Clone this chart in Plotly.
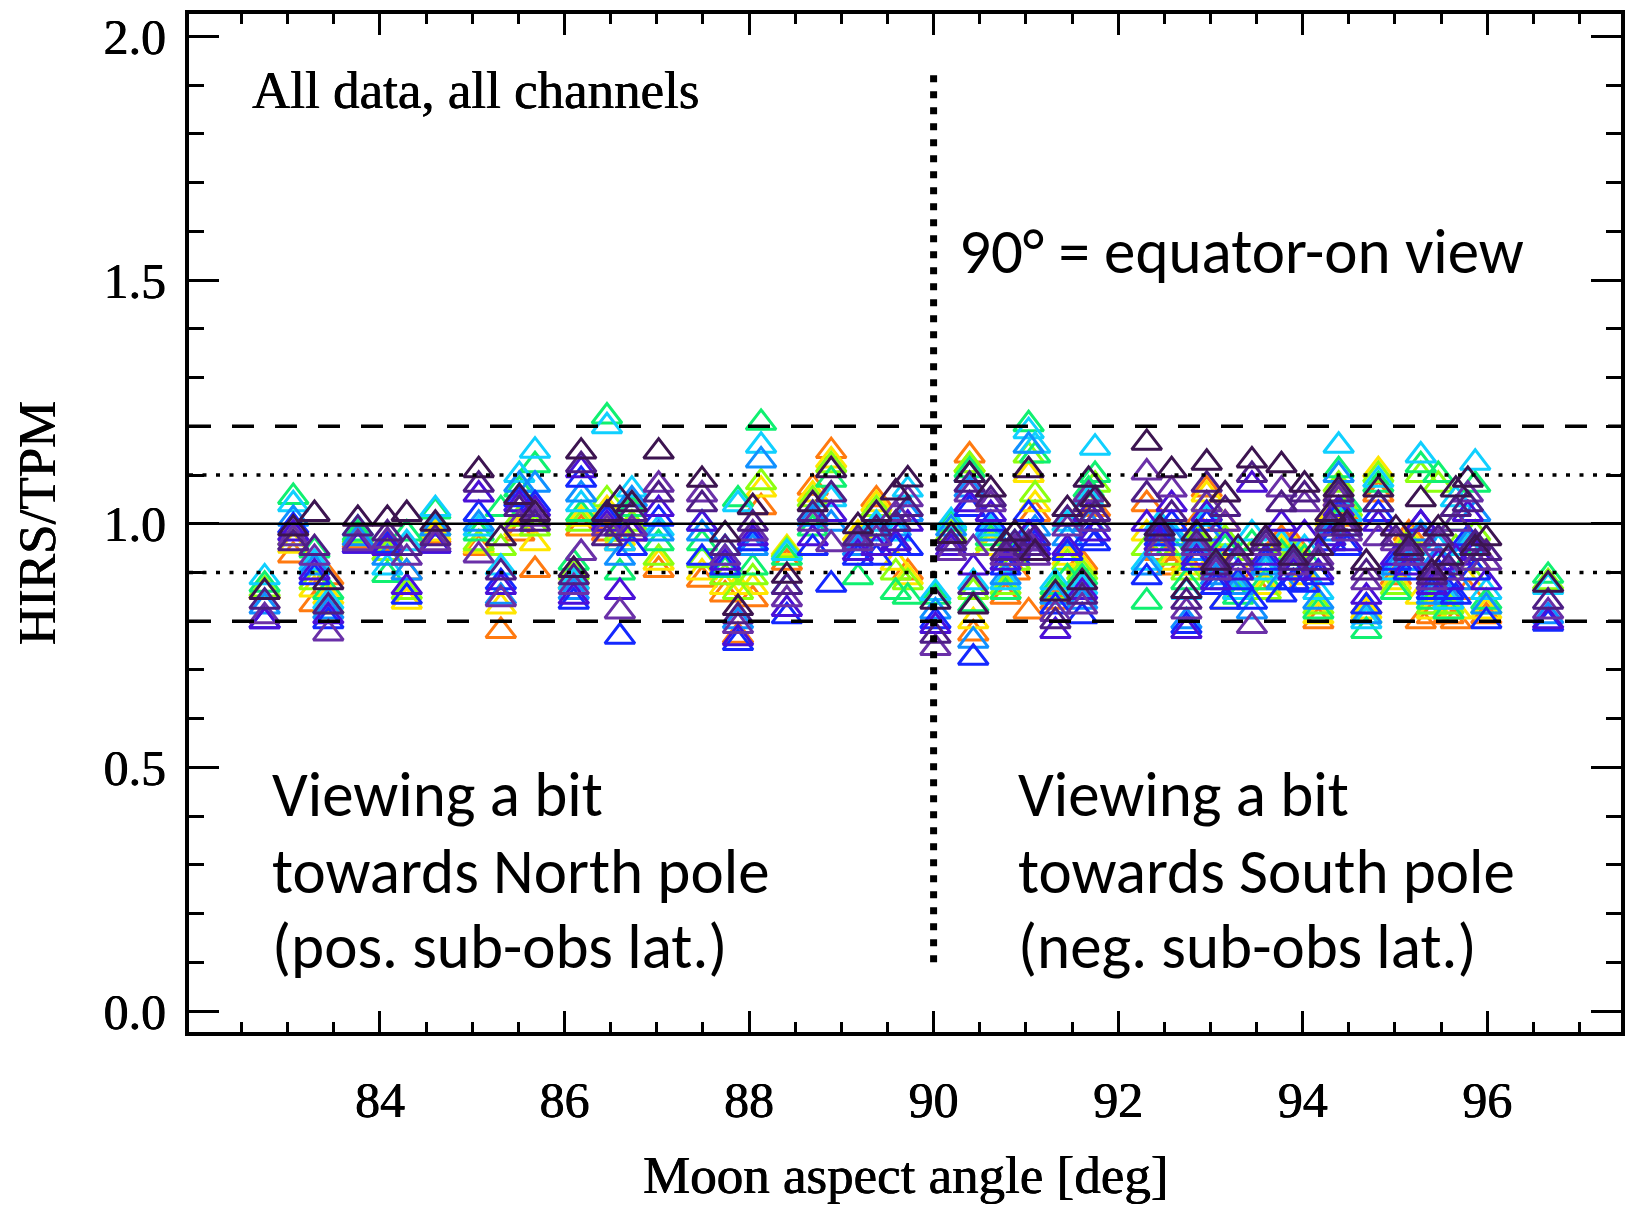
import plotly.graph_objects as go

# ---------------- data ----------------
angles = [82.75, 83.06, 83.29, 83.44, 83.76, 84.08, 84.29, 84.60, 85.07, 85.31,
          85.51, 85.68, 86.10, 86.18, 86.46, 86.60, 86.73, 87.02, 87.49, 87.74,
          87.88, 88.04, 88.13, 88.41, 88.69, 88.89, 89.18, 89.38, 89.59, 89.72,
          90.02, 90.19, 90.39, 90.43, 90.62, 90.78, 90.88, 91.03, 91.10, 91.32,
          91.45, 91.61, 91.68, 91.75, 92.31, 92.45, 92.58, 92.74, 92.85, 92.96,
          93.06, 93.16, 93.30, 93.45, 93.60, 93.77, 93.90, 94.02, 94.17, 94.30,
          94.39, 94.48, 94.69, 94.82, 95.01, 95.15, 95.28, 95.40, 95.47, 95.58,
          95.66, 95.79, 95.87, 95.99, 96.66]

ratio_dark_purple = [0.86, 0.99, 1.02, 0.88, 1.01, 1.01, 1.02, 1.00, 1.11, 0.97,
                     1.055, 1.02, 0.905, 1.148, 1.02, 1.05, 1.04, 1.148, 1.09, 0.978,
                     0.827, 1.034, None, 0.893, 1.04, 1.11, 0.995, 1.02, 1.064, 1.091,
                     0.84, 0.975, 1.10, 0.83, 1.07, 0.96, 0.98, 1.11, 0.94, 0.857,
                     1.03, 0.88, 1.09, 1.05, 1.166, 0.99, 1.11, 0.862, 0.98, 1.125,
                     0.92, 1.06, 0.95, 1.13, 0.97, 1.12, 0.93, 1.08, 0.95, 1.02,
                     1.07, 1.00, 0.92, 1.07, 0.99, 0.95, 1.05, 0.90, 0.99, 0.93,
                     1.07, 1.09, 0.95, 0.97, 0.875]
ratio_dark_violet = [0.84, 0.96, 0.95, 0.83, 0.99, 0.98, 0.95, 0.97, 1.08, 0.90,
                     1.03, 1.00, 0.89, 1.12, 0.97, 0.99, 1.02, 1.06, 1.04, 0.95,
                     0.81, 1.00, None, 0.87, 1.02, 1.06, 0.97, 0.99, 1.00, 1.03,
                     0.77, 0.96, 1.08, 0.87, 1.05, 0.94, 0.96, 0.95, 0.97, 0.80,
                     1.01, 0.85, 1.04, 1.02, 1.06, 0.98, 1.02, 0.84, 0.96, 1.08,
                     0.91, 1.03, 0.93, 1.10, 0.96, 1.04, 0.92, 1.06, 0.92, 1.00,
                     1.06, 0.99, 0.90, 1.04, 0.97, 0.94, 0.97, 0.89, 0.97, 0.91,
                     1.03, 1.04, 0.96, 0.94, 0.84]
ratio_purple = [0.81, 0.97, 0.93, 0.775, 0.96, 0.965, 0.93, 0.96, 0.935, 0.845,
                1.00, 1.01, 0.87, 0.94, 0.99, 0.82, 0.99, 1.08, 1.06, 0.93,
                0.79, 0.98, None, 0.845, 1.00, 0.958, 0.96, 0.97, 1.02, 1.05,
                0.745, 0.94, 1.06, 0.95, 1.04, 0.93, 0.95, 0.96, 0.93, 0.815,
                0.99, 0.83, 1.06, 1.00, 1.105, 0.95, 1.07, 0.82, 0.95, 1.04,
                0.90, 1.00, 0.92, 0.79, 0.95, 1.07, 0.91, 1.04, 0.93, 0.99,
                1.05, 0.98, 0.88, 0.97, 0.96, 0.93, 0.93, 0.88, 0.96, 0.90,
                1.00, 1.06, 0.92, 0.92, 0.82]
ratio_indigo = [0.80, 0.98, 0.90, 0.81, 0.955, 0.95, 0.87, 0.955, 1.06, 0.87,
                1.04, 1.03, 0.85, 1.11, 1.00, 0.86, 0.98, 1.03, 1.00, 0.92,
                0.765, 0.97, None, 0.825, 0.97, 1.02, 0.94, 0.95, 0.96, 1.00,
                0.79, 0.95, 1.04, 0.91, 1.02, 0.92, 0.945, 0.98, 0.95, 0.78,
                0.95, 0.86, 1.02, 0.98, 1.00, 0.96, 1.04, 0.78, 0.93, 1.02,
                0.88, 0.96, 0.90, 1.08, 0.93, 1.00, 0.90, 0.98, 0.90, 0.97,
                1.03, 0.96, 0.85, 1.00, 0.93, 0.91, 1.00, 0.87, 0.92, 0.88,
                0.93, 1.02, 0.94, 0.88, 0.80]
ratio_blue = [0.80, 0.995, 0.89, 0.80, 0.955, 0.955, 0.85, 0.955, 1.02, 0.88,
              1.05, 1.04, 0.84, 1.09, 1.01, 0.768, 0.95, 1.01, 0.93, 0.91,
              0.755, 0.96, None, 0.81, 0.95, 0.875, 0.93, 0.93, 0.95, 0.95,
              0.80, 0.96, 1.03, 0.725, 1.00, 0.91, 0.93, 1.02, 0.96, 0.83,
              0.94, 0.81, 0.97, 0.96, 0.89, 0.97, 1.00, 0.79, 0.92, 1.00,
              0.87, 0.84, 0.88, 0.84, 0.92, 0.855, 0.88, 0.875, 0.89, 0.96,
              1.02, 0.95, 0.83, 1.02, 0.92, 0.90, 1.00, 0.86, 0.90, 0.86,
              0.85, 0.97, 0.90, 0.80, 0.795]
ratio_azure = [0.83, 1.01, 0.91, 0.82, 0.97, 0.93, 0.90, 0.99, 1.00, 0.85,
               1.08, 1.08, 0.86, 1.06, 1.02, 0.93, 1.05, 0.98, 0.98, 0.93,
               0.80, 0.95, 1.13, 0.87, 1.01, 1.00, 0.95, 0.98, 0.99, 1.02,
               0.82, 0.99, 1.07, 0.76, 0.98, 0.89, 0.95, 1.16, 0.99, 0.85,
               0.97, 0.84, 1.00, 1.00, 0.91, 0.99, 0.97, 0.80, 0.94, 0.98,
               0.89, 0.88, 0.87, 0.82, 0.91, 0.88, 0.90, 0.90, 0.84, 0.98,
               1.10, 0.99, 0.81, 1.04, 0.91, 0.92, 0.98, 0.85, 0.93, 0.85,
               0.88, 0.96, 1.02, 0.83, 0.81]
ratio_cyan = [0.89, 1.04, 0.92, 0.84, 0.99, 0.91, 0.96, 1.03, 0.99, 0.91,
              1.10, 1.15, 0.88, 1.04, 1.20, 0.96, 1.07, 0.99, 1.00, 0.95,
              1.04, 0.96, 1.16, 0.94, 1.02, 1.05, 0.96, 1.00, 0.98, 1.07,
              0.858, 1.005, 1.10, 0.88, 0.99, 0.88, 0.96, 1.19, 1.16, 0.88,
              1.00, 0.87, 1.05, 1.156, 0.92, 1.00, 0.98, 0.86, 0.95, 1.01,
              0.90, 0.93, 0.86, 0.98, 0.90, 0.96, 0.92, 0.95, 0.86, 0.97,
              1.16, 1.02, 0.80, 1.09, 0.90, 0.92, 1.14, 0.88, 0.95, 0.84,
              1.05, 0.95, 1.125, 0.86, 0.87]
ratio_green = [0.875, 1.055, 0.945, 0.86, 0.98, 0.895, 0.98, 1.025, 0.98, 1.03,
               1.07, 1.12, 0.92, 1.02, 1.22, 0.90, 1.03, 0.96, 0.96, 0.905,
               1.05, 0.91, 1.207, 0.93, 0.99, 1.09, 0.89, 0.99, 0.86, 0.85,
               0.85, 1.00, 1.11, 0.835, 0.97, 0.86, 0.94, 1.204, 1.14, 0.87,
               0.89, 0.89, 1.07, 1.10, 0.84, 0.98, 0.95, 0.88, 0.96, 1.02,
               0.91, 0.95, 0.85, 0.96, 0.88, 0.94, 0.93, 0.93, 0.82, 0.99,
               1.11, 1.04, 0.78, 1.08, 0.86, 0.94, 1.12, 0.84, 1.10, 0.82,
               1.00, 0.92, 1.08, 0.84, 0.893]
ratio_lime = [0.865, 0.97, 0.88, 0.83, 0.975, 0.94, 0.86, 0.99, 0.96, 0.95,
              1.01, 0.99, 0.90, 1.00, 1.05, 0.98, 1.00, 0.93, 0.925, 0.89,
              0.86, 0.89, 1.085, 0.945, 1.05, 1.12, 0.97, 1.03, 0.90, 0.88,
              None, 0.98, 1.12, 0.86, 0.96, 0.87, 0.92, 1.14, 1.06, 0.86,
              0.92, 0.90, 1.06, 1.08, 0.95, 0.96, 0.93, 0.90, 0.97, 1.04,
              0.92, 0.97, 0.87, 0.94, 0.86, 0.93, 0.94, 0.90, 0.83, 1.00,
              1.08, 1.03, 0.81, 1.10, 0.87, 0.96, 1.10, 0.83, 1.08, 0.83,
              0.95, 0.90, 0.98, 0.83, 0.88]
ratio_yellow = [0.86, 0.955, 0.865, 0.85, 0.97, 0.95, 0.84, 0.98, 0.955, 0.83,
                0.99, 0.96, 0.89, 1.01, 1.03, 0.97, 0.99, 0.92, 0.90, 0.87,
                0.87, 0.87, 1.07, 0.95, 1.06, 1.13, 0.98, 1.04, 0.92, 0.89,
                None, None, 1.12, 0.80, 0.95, 0.86, 0.92, 1.10, 1.04, 0.85,
                0.93, 0.91, 1.04, 1.05, 0.98, 0.95, 0.92, 0.91, 0.98, 1.06,
                0.93, 0.84, 0.88, 0.90, 0.87, 0.95, 0.95, 0.89, 0.81, 1.01,
                1.06, 1.02, 0.82, 1.11, 0.88, 0.97, 0.85, 0.82, 0.85, 0.84,
                0.82, 0.88, 0.95, 0.82, None]
ratio_orange = [0.86, 0.935, 0.835, 0.89, 0.965, 0.96, 0.90, 0.975, 0.95, 0.78,
                0.98, 0.905, 0.88, 0.99, 0.98, 0.96, 0.98, 0.905, 0.885, 0.855,
                0.77, 0.845, 1.034, 0.92, 1.074, 1.149, 0.97, 1.05, 0.95, 0.90,
                None, None, 1.14, 0.775, 0.95, 0.85, 0.90, 0.82, 1.02, 0.84,
                0.94, 0.92, 1.00, 1.03, 1.04, 0.94, 0.91, 0.92, 1.00, 1.07,
                0.94, 1.00, 0.86, 0.88, 0.90, 0.97, 0.96, 0.88, 0.80, 0.99,
                1.05, 1.01, 0.83, 1.06, 0.89, 0.98, 0.80, 0.81, 0.83, 0.81,
                0.80, 0.86, 0.92, 0.81, None]

# drawing order: warm channels first, dark ones on top
channels = [
    (ratio_orange, "#ff7a10"),
    (ratio_yellow, "#ffe600"),
    (ratio_lime, "#8cff10"),
    (ratio_green, "#10f070"),
    (ratio_cyan, "#10d0ff"),
    (ratio_azure, "#1090ff"),
    (ratio_blue, "#1428ff"),
    (ratio_indigo, "#4a10d8"),
    (ratio_purple, "#6a30a8"),
    (ratio_dark_violet, "#4e1e86"),
    (ratio_dark_purple, "#3c1450"),
]

x_ticks = [84, 86, 88, 90, 92, 94, 96]
x_minor = [82.5 + 0.5 * i for i in range(30)]
y_ticks = [0.0, 0.5, 1.0, 1.5, 2.0]
y_ticklabels = ["0.0", "0.5", "1.0", "1.5", "2.0"]
x_range = [81.93, 97.45]
y_range = [-0.043, 2.046]

ref_solid = 1.0
ref_dotted = [0.9, 1.1]
ref_dashed = [0.8, 1.2]
equator_angle = 90.0
equator_line_y = [0.10, 1.921]

# ---------------- figure ----------------
fig = go.Figure()
for vals, col in channels:
    fig.add_trace(go.Scatter(
        x=angles, y=vals, mode="markers",
        marker=dict(symbol="triangle-up-open", size=26, color=col,
                    line=dict(color=col, width=3)),
        showlegend=False, hoverinfo="skip"))

serif = "Liberation Serif, Times New Roman, serif"
sans = "Calibri, Carlito, Roboto, sans-serif"
thick = "0.5px 0px 0px black, -0.3px 0px 0px black"

fig.add_shape(type="line", xref="paper", yref="y", x0=0, x1=1,
              y0=ref_solid, y1=ref_solid, line=dict(color="black", width=2.6))
for v in ref_dotted:
    fig.add_shape(type="line", xref="paper", yref="y", x0=0, x1=1, y0=v, y1=v,
                  line=dict(color="black", width=3.5, dash="4px,9.5px"))
for v in ref_dashed:
    fig.add_shape(type="line", xref="paper", yref="y", x0=0, x1=1, y0=v, y1=v,
                  line=dict(color="black", width=3.5, dash="22px,21px"))
fig.add_shape(type="line", xref="x", yref="y", x0=equator_angle, x1=equator_angle,
              y0=equator_line_y[0], y1=equator_line_y[1],
              line=dict(color="black", width=7, dash="7px,9px"))

axis_common = dict(showline=True, linewidth=4, linecolor="black", mirror="ticks",
                   ticks="inside", tickcolor="black", tickwidth=3,
                   showgrid=False, zeroline=False)

fig.update_xaxes(range=x_range, tickmode="array", tickvals=x_ticks,
                 ticklen=21, tickfont=dict(family=serif, size=50, color="black", shadow=thick),
                 ticklabelstandoff=21,
                 minor=dict(tickmode="array", tickvals=x_minor, ticks="inside",
                            ticklen=10, tickwidth=3, tickcolor="black"),
                 **axis_common)
fig.update_yaxes(range=y_range, tickmode="array", tickvals=y_ticks,
                 ticktext=y_ticklabels, ticklen=30,
                 tickfont=dict(family=serif, size=50, color="black", shadow=thick),
                 ticklabelstandoff=9,
                 minor=dict(dtick=0.1, tick0=0, ticks="inside", ticklen=15,
                            tickwidth=3, tickcolor="black"),
                 **axis_common)

annots = [
    dict(text="Moon aspect angle [deg]", xref="paper", yref="paper", x=0.5, y=-0.1405,
         xanchor="center", yanchor="middle", font=dict(family=serif, size=53, shadow=thick)),
    dict(text="HIRS/TPM", xref="paper", yref="paper", x=-0.106, y=0.5, textangle=-90,
         xanchor="center", yanchor="middle", font=dict(family=serif, size=53, shadow=thick)),
    dict(text="All data, all channels", xref="x", yref="y", x=82.59, y=1.89,
         xanchor="left", yanchor="middle", font=dict(family=serif, size=53, shadow=thick)),
    dict(text="90° = equator-on view", xref="x", yref="y", x=90.25, y=1.558,
         xanchor="left", yanchor="middle", font=dict(family=sans, size=63)),
]
left_lines = ["Viewing a bit", "towards North pole", "(pos. sub-obs lat.)"]
right_lines = ["Viewing a bit", "towards South pole", "(neg. sub-obs lat.)"]
line_y = [0.444, 0.287, 0.133]
for txt, yy in zip(left_lines, line_y):
    annots.append(dict(text=txt, xref="x", yref="y", x=82.81, y=yy, xanchor="left",
                       yanchor="middle", font=dict(family=sans, size=63)))
for txt, yy in zip(right_lines, line_y):
    annots.append(dict(text=txt, xref="x", yref="y", x=90.89, y=yy, xanchor="left",
                       yanchor="middle", font=dict(family=sans, size=63)))
for a in annots:
    a.setdefault("showarrow", False)
    a["font"]["color"] = "black"
fig.update_layout(annotations=annots)

fig.update_layout(width=1633, height=1211, margin=dict(l=189, r=8, t=14, b=179),
                  paper_bgcolor="white", plot_bgcolor="white")

fig.write_html("out.html")
